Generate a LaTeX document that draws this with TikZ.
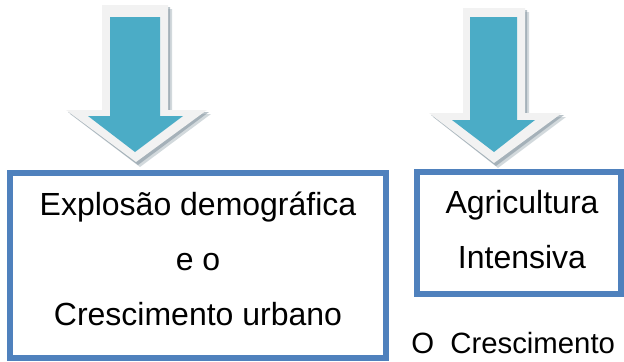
\documentclass[tikz,border=0pt]{standalone}
\usepackage{fontspec}
\setmainfont{Liberation Sans}
\definecolor{tealfill}{HTML}{4BACC6}
\definecolor{rim}{HTML}{F2F2F2}
\definecolor{boxblue}{HTML}{4F81BD}
\definecolor{shad}{HTML}{7F919C}
\begin{document}
\begin{tikzpicture}[x=0.75pt,y=-0.75pt,
  boxframe/.style={draw=boxblue, line width=4.5pt, fill=white, inner sep=0pt},
  lbl/.style={font=\fontsize{24}{28}\selectfont, anchor=base, inner sep=0pt},
  smalllbl/.style={font=\fontsize{22}{26}\selectfont, anchor=base west, inner sep=0pt},
  rimshape/.style={fill=rim},
  coreshape/.style={fill=tealfill},
  shadowA/.style={fill=shad, opacity=0.35},
  shadowB/.style={fill=shad, opacity=0.55}]
\useasboundingbox (0,0) rectangle (624,361);

% left block arrow
\fill[shadowA] (106,9) -- (172,9) -- (172,114) -- (211,114) -- (140,167) -- (70,114) -- (106,114) -- cycle;
\fill[shadowB] (104,7) -- (170,7) -- (170,112) -- (209,112) -- (138,165) -- (68,112) -- (104,112) -- cycle;
\fill[rimshape] (102,5) -- (168,5) -- (168,110) -- (207,110) -- (136,162) -- (66,110) -- (102,110) -- cycle;
\fill[coreshape] (110,17) -- (160,17) -- (160,116) -- (183,116) -- (135,152) -- (88,116) -- (110,116) -- cycle;

% right block arrow
\fill[shadowA] (467,12) -- (529,12) -- (529,117) -- (566,117) -- (498,168) -- (433,117) -- (467,117) -- cycle;
\fill[shadowB] (465,10) -- (527,10) -- (527,115) -- (564,115) -- (496,166) -- (431,115) -- (465,115) -- cycle;
\fill[rimshape] (463,8) -- (525,8) -- (525,113) -- (562,113) -- (494,163) -- (429,113) -- (463,113) -- cycle;
\fill[coreshape] (470,17) -- (517,17) -- (517,120) -- (535,120) -- (494,152) -- (452,120) -- (470,120) -- cycle;

% boxes
\node[boxframe, minimum width=282pt, minimum height=138.75pt] (boxL) at (198,265.5) {};
\node[boxframe, minimum width=153pt, minimum height=91.5pt] (boxR) at (519,233) {};

% texts
\node[lbl] (l1) at (198,215) {Explosão demográfica};
\node[lbl] (l2) at (198,270) {e o};
\node[lbl] (l3) at (198,325) {Crescimento urbano};
\node[lbl] (r1) at (522,213) {Agricultura};
\node[lbl] (r2) at (522,268) {Intensiva};
\node[smalllbl] (r3) at (411,353) {O~~Crescimento};
\end{tikzpicture}
\end{document}
